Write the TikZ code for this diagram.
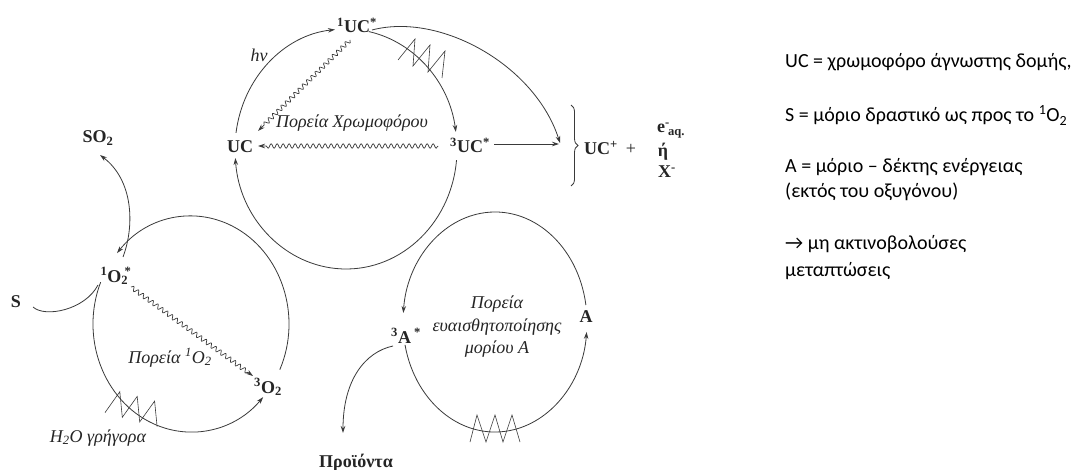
\documentclass[tikz,border=0pt]{standalone}
\usepackage{fontspec}
\setmainfont{Liberation Serif}
\newfontfamily\legendfont{Carlito}
\usetikzlibrary{arrows.meta,decorations.pathmorphing,decorations.pathreplacing}
\definecolor{ink}{HTML}{252525}
\definecolor{linec}{HTML}{3A3A3A}
\tikzset{
  ln/.style={draw=linec, line width=0.8pt},
  arr/.style={ln, -{Stealth[length=7pt,width=4.5pt]}},
  lbl/.style={inner sep=0pt, text=ink, font=\fontsize{18}{21}\selectfont\bfseries},
  pth/.style={inner sep=0pt, text=ink, font=\fontsize{18}{22.5}\selectfont\itshape, align=center},
  leg/.style={inner sep=0pt, anchor=base west, text=black, font=\legendfont\fontsize{20}{24}\selectfont},
  wavy/.style={ln, line width=0.7pt, decorate, decoration={snake, amplitude=2.2pt, segment length=6pt, post length=6pt}, -{Stealth[length=7pt,width=4.5pt]}},
  zz/.style={draw=linec, line width=0.6pt, line join=miter},
}
\begin{document}
\begin{tikzpicture}[x=1pt,y=-1pt]
\fill[white] (0,0) rectangle (1091,470);
\useasboundingbox (0,0) rectangle (1091,470);

% ---------- top cycle: chromophore ----------
\node[lbl, anchor=base] (uc1) at (357,33) {\textsuperscript{1}UC\textsuperscript{*}};
\node[lbl, anchor=base] (uc) at (240,153) {UC};
\node[lbl, anchor=base] (uc3) at (470,153) {\textsuperscript{3}UC\textsuperscript{*}};
\node[pth, anchor=base] (hv) at (259,62) {hν};
\node[pth, anchor=base] (chrom) at (352,128) {Πορεία Χρωμοφόρου};

\coordinate (C1) at (346,149);
\path (C1) ++(187.7:111 and 120) coordinate (t1);
\path (C1) ++(282:111 and 120) coordinate (t2);
\path (C1) ++(5.3:111 and 120) coordinate (t3);
\draw[arr] (t1) arc[start angle=187.7, end angle=264.3, x radius=111, y radius=120];
\draw[arr] (t2) arc[start angle=282, end angle=351.8, x radius=111, y radius=120];
\draw[arr] (t3) arc[start angle=5.3, end angle=175.7, x radius=111, y radius=120];

\coordinate (w1s) at (350,40);  \coordinate (w1e) at (258,131);
\draw[wavy] (w1s) -- (w1e);
\coordinate (w2s) at (438,146); \coordinate (w2e) at (258,146);
\draw[wavy] (w2s) -- (w2e);

\draw[zz] (398,60) -- (415,39) -- (413,66) -- (430,45) -- (428,72) -- (445,51) -- (442,78);

% products of UC
\coordinate (bgs) at (372,30);
\coordinate (brk) at (560,143);
\draw[arr] (bgs) .. controls (440,12) and (535,65) .. (brk);
\coordinate (a3s) at (494,144); \coordinate (a3e) at (559,144);
\draw[arr] (a3s) -- (a3e);
\coordinate (brt) at (571,105); \coordinate (brb) at (571,186);
\draw[ln, decorate, decoration={brace, amplitude=7pt}] (brt) -- (brb);
\node[lbl, anchor=base] (ucp) at (601,155) {UC\textsuperscript{+}};
\node[lbl, anchor=base, font=\fontsize{18}{21}\selectfont] (plus) at (631,155) {+};
\node[lbl, anchor=base] (eaq) at (671,133) {e\rlap{\textsuperscript{-}}\,\textsubscript{aq.}};
\node[lbl, anchor=base] (eta) at (663,157) {ή};
\node[lbl, anchor=base] (xm) at (667,178) {X\textsuperscript{-}};

% ---------- lower-left cycle: singlet oxygen ----------
\node[lbl, anchor=base] (so2) at (98,143) {SO\textsubscript{2}};
\node[lbl, anchor=base] (o2s) at (116,282) {\textsuperscript{1}O\textsubscript{2}\kern-0.2em\textsuperscript{*}};
\node[lbl, anchor=base] (S) at (16,307) {S};
\node[lbl, anchor=base] (o23) at (268,393) {\textsuperscript{3}O\textsubscript{2}};
\node[pth, anchor=base] (po2) at (170,363) {Πορεία \textsuperscript{1}O\textsubscript{2}};
\node[pth, anchor=base] (h2o) at (98,442) {H\textsubscript{2}O γρήγορα};

\coordinate (C2) at (191,324);
\path (C2) ++(25:98 and 108) coordinate (l1);
\path (C2) ++(202.8:98 and 108) coordinate (l2);
\draw[arr] (l1) arc[start angle=25, end angle=-139, x radius=98, y radius=108];
\draw[arr] (l2) arc[start angle=202.8, end angle=42.6, x radius=98, y radius=108];

\coordinate (w3s) at (131,287); \coordinate (w3e) at (253,376);
\draw[wavy] (w3s) -- (w3e);

\coordinate (s2s) at (123,257); \coordinate (s2e) at (100,155);
\draw[arr] (s2s) .. controls (135,225) and (133,180) .. (s2e);
\coordinate (ss) at (33,307); \coordinate (se) at (98,285);
\draw[ln] (ss) .. controls (45,318) and (85,310) .. (se);

\draw[zz] (105,412.6) -- (119.8,391.7) -- (122.3,417.3) -- (137.2,396.4) -- (139.7,421.9) -- (154.6,401.1) -- (157.1,426.6);

% ---------- lower-right cycle: sensitisation of A ----------
\node[lbl, anchor=base] (a3) at (406,343) {\textsuperscript{3}A\,\textsuperscript{*}};
\node[lbl, anchor=base] (A) at (586,322) {A};
\node[pth] (sens) at (497,327) {Πορεία\\ευαισθητοποίησης\\μορίου A};
\node[lbl, anchor=base] (prod) at (356,467) {Προϊόντα};

\coordinate (C3) at (495,322);
\path (C3) ++(-8.9:92 and 110) coordinate (r1);
\path (C3) ++(168:92 and 110) coordinate (r2);
\draw[arr] (r1) arc[start angle=-8.9, end angle=-175.3, x radius=92, y radius=110];
\draw[arr] (r2) arc[start angle=168, end angle=5.2, x radius=92, y radius=110];

\draw[zz] (470,442) -- (477,415) -- (486,442) -- (495,415) -- (503,442) -- (512,415) -- (520,442);

\coordinate (ps) at (393,346); \coordinate (pe) at (343,433);
\draw[arr] (ps) .. controls (365,352) and (343,380) .. (pe);

% ---------- legend ----------
\node[leg] (lg1) at (785,68) {UC = χρωμοφόρο άγνωστης δομής,};
\node[leg] (lg2) at (785,122) {S = μόριο δραστικό ως προς το \textsuperscript{1}O\textsubscript{2}};
\node[leg] (lg3) at (785,173) {A = μόριο – δέκτης ενέργειας};
\node[leg] (lg4) at (785,198) {(εκτός του οξυγόνου)};
\node[leg] (lg5) at (785,250) {→ μη ακτινοβολούσες};
\node[leg] (lg6) at (785,276) {μεταπτώσεις};
\end{tikzpicture}
\end{document}
